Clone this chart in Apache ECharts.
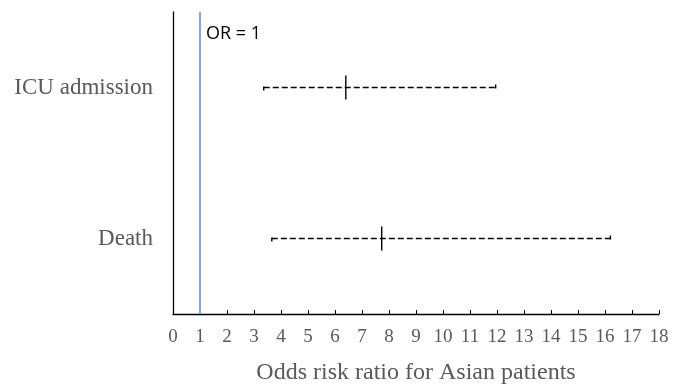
<!DOCTYPE html>
<html><head><meta charset="utf-8">
<script src="https://cdn.jsdelivr.net/npm/echarts@6/dist/echarts.min.js"></script>
<style>html,body{margin:0;padding:0;background:#fff}#c{width:690px;height:390px}</style>
</head><body><div id="c"></div>
<script>
const categories = ['Death', 'ICU admission'];
const oddsRatio = [7.73, 6.40];
const lowerCI = [3.66, 3.36];
const upperCI = [16.2, 11.95];
const refLineValue = 1;
const refLineLabel = 'OR = 1';
const xTicks = [0, 18, 1];

const chart = echarts.init(document.getElementById('c'));
const serif = '"Liberation Serif","Times New Roman",serif';

chart.setOption({
  animation: false,
  grid: { left: 173, right: 31, top: 12, bottom: 76 },
  xAxis: {
    type: 'value', min: xTicks[0], max: xTicks[1], interval: xTicks[2],
    name: 'Odds risk ratio for Asian patients', nameLocation: 'middle', nameGap: 47,
    nameTextStyle: { fontFamily: serif, fontSize: 24, color: '#595959' },
    axisLine: { show: true, lineStyle: { color: '#000', width: 1.3 } },
    axisTick: { show: true, inside: true, length: 4, lineStyle: { color: '#000' } },
    axisLabel: { fontFamily: serif, fontSize: 19, color: '#595959', margin: 14 },
    splitLine: { show: false }
  },
  yAxis: {
    type: 'category', data: categories,
    axisLine: { show: true, lineStyle: { color: '#000', width: 1.3 } },
    axisTick: { show: false },
    axisLabel: { fontFamily: serif, fontSize: 23, color: '#595959', margin: 20 },
    splitLine: { show: false }
  },
  series: [
    {
      type: 'custom',
      data: categories.map((c, i) => [i, oddsRatio[i], lowerCI[i], upperCI[i]]),
      renderItem: function (params, api) {
        const ci = api.value(0);
        const p = api.coord([api.value(1), ci]);
        const lo = api.coord([api.value(2), ci]);
        const hi = api.coord([api.value(3), ci]);
        const st = { stroke: '#000', lineWidth: 1.4 };
        return {
          type: 'group',
          children: [
            { type: 'line', shape: { x1: lo[0], y1: lo[1], x2: hi[0], y2: hi[1] },
              style: { stroke: '#000', lineWidth: 1.5, lineDash: [6, 3] } },
            { type: 'line', shape: { x1: lo[0], y1: lo[1] - 1, x2: lo[0], y2: lo[1] + 3 }, style: st },
            { type: 'line', shape: { x1: hi[0], y1: hi[1] - 3, x2: hi[0], y2: hi[1] + 1 }, style: st },
            { type: 'line', shape: { x1: p[0], y1: p[1] - 12, x2: p[0], y2: p[1] + 12 }, style: st }
          ]
        };
      }
    },
    {
      type: 'custom',
      data: [[refLineValue]],
      z: 1,
      renderItem: function (params, api) {
        const cs = params.coordSys;
        const x = api.coord([api.value(0), 0])[0];
        return {
          type: 'group',
          children: [
            { type: 'line', shape: { x1: x, y1: cs.y, x2: x, y2: cs.y + cs.height },
              style: { stroke: '#8FA8C8', lineWidth: 2.2 } },
            { type: 'text', x: x + 6, y: cs.y + 22,
              style: { text: refLineLabel, fill: '#000', fontSize: 18,
                fontFamily: '"Open Sans","Liberation Sans",sans-serif', verticalAlign: 'middle' } }
          ]
        };
      }
    }
  ]
});
</script></body></html>
